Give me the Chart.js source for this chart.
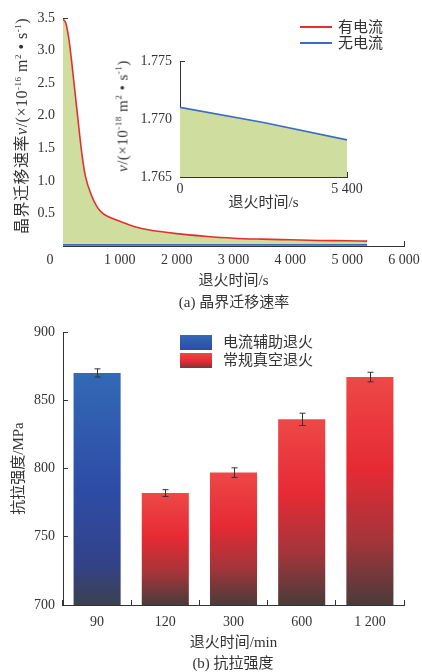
<!DOCTYPE html>
<html>
<head>
<meta charset="utf-8">
<script src="https://cdn.jsdelivr.net/npm/chart.js@4.4.1/dist/chart.umd.min.js"></script>
<style>
  body { margin: 0; background: #fff; }
  #page { position: relative; width: 422px; height: 672px; overflow: hidden; background: #fff;
    font-family: 'Liberation Serif', 'Noto Sans CJK SC', serif; color: #333; }
  canvas { position: absolute; }
  .txt { position: absolute; white-space: nowrap; font-size: 15px; line-height: 1; }
  .mid { transform: translate(-50%, -50%); }
  .left { transform: translate(0, -50%); }
  .rot { transform: translate(-50%, -50%) rotate(-90deg); }
  sup { font-size: 9px; vertical-align: 6px; line-height: 0; }
  .line { position: absolute; width: 32px; height: 2px; }
  .swatch { position: absolute; width: 32px; height: 15px; }
</style>
</head>
<body>
<div id="page">
  <canvas id="chartA" width="422" height="290" style="left:0;top:0;width:422px;height:290px"></canvas>
  <canvas id="chartInset" width="270" height="175" style="left:100px;top:40px;width:270px;height:175px"></canvas>
  <canvas id="chartB" width="422" height="362" style="left:0;top:310px;width:422px;height:362px"></canvas>

  <div class="txt rot" style="left:22px;top:126px;font-size:16px;letter-spacing:0.5px">晶界迁移速率<i>v</i>/(×10<sup>-16</sup> m<sup>2</sup> • s<sup>-1</sup>)</div>
  <div class="txt rot" style="left:123px;top:116px;font-size:15px;letter-spacing:0.5px"><i>v</i>/(×10<sup>-18</sup> m<sup>2</sup> • s<sup>-1</sup>)</div>

  <div class="line" style="left:300px;top:26px;background:#e3302f"></div>
  <div class="txt left" style="left:338px;top:27px">有电流</div>
  <div class="line" style="left:300px;top:42px;background:#3b6cc4"></div>
  <div class="txt left" style="left:338px;top:43px">无电流</div>

  <div class="txt mid" style="left:234px;top:302px">(a) 晶界迁移速率</div>

  <div class="swatch" style="left:180px;top:335px;background:linear-gradient(#3369b6,#2d4ca6)"></div>
  <div class="txt left" style="left:223px;top:342px">电流辅助退火</div>
  <div class="swatch" style="left:180px;top:353px;background:linear-gradient(#ee4848,#e62a34 55%,#7a3838)"></div>
  <div class="txt left" style="left:223px;top:360px">常规真空退火</div>

  <div class="txt mid" style="left:233px;top:663px">(b) 抗拉强度</div>
</div>

<script>
// (a) grain boundary migration rate, x in s, v in 1e-16 m2/s
const timeS = [0, 50, 100, 150, 200, 250, 300, 350, 400, 500, 600, 700, 800, 1000, 1250, 1500, 2000, 2500, 3000, 3500, 4000, 4500, 5000, 5350];
const vCurrent = [3.48, 3.42, 3.2, 2.85, 2.45, 2.05, 1.65, 1.3, 1.05, 0.78, 0.6, 0.5, 0.45, 0.38, 0.3, 0.25, 0.19, 0.15, 0.12, 0.105, 0.095, 0.085, 0.08, 0.075];
const timeNoCurrent = [0, 5350];
const vNoCurrent = [0.0177, 0.0177];
const xTicksA = [0, 1000, 2000, 3000, 4000, 5000, 6000];
const yTicksA = [0, 0.5, 1.0, 1.5, 2.0, 2.5, 3.0, 3.5];

// inset, v in 1e-18 m2/s
const insetT = [0, 2700, 5400];
const insetV = [1.7710, 1.7697, 1.7682];
const xTicksInset = [0, 5400];
const yTicksInset = [1.765, 1.770, 1.775];

// (b) tensile strength
const annealMin = ['90', '120', '300', '600', '1 200'];
const strengthAssisted = [870, null, null, null, null];
const strengthVacuum = [null, 782, 797, 836, 867];
const strengthErr = [3, 2.5, 3.5, 4.5, 3.5];
const yTicksB = [700, 750, 800, 850, 900];

const serif = "'Liberation Serif', 'Noto Sans CJK SC', serif";
const ink = '#333';
const tickFont = { family: serif, size: 14 };
const titleFont = { family: serif, size: 15 };

function fmt(v) {
  return String(v).replace(/\B(?=(\d{3})+(?!\d))/g, ' ');
}

function fixBox(w, h) {
  return function (scale) {
    if (w != null) scale.width = w;
    if (h != null) scale.height = h;
    scale.paddingLeft = 0;
    scale.paddingRight = 0;
    scale.paddingTop = 0;
    scale.paddingBottom = 0;
  };
}

function useTicks(list) {
  return function (scale) {
    scale.ticks = list.map(v => ({ value: v }));
  };
}

function axis(extra) {
  return Object.assign({
    border: { color: ink, width: 1 },
    grid: { drawOnChartArea: false, color: ink, tickColor: ink, tickLength: -5 },
  }, extra);
}

const cornerZero = {
  id: 'cornerZero',
  afterDraw(chart) {
    const ctx = chart.ctx;
    ctx.save();
    ctx.font = '14px ' + serif;
    ctx.fillStyle = ink;
    ctx.textAlign = 'center';
    ctx.textBaseline = 'middle';
    ctx.fillText('0', chart.chartArea.left - 13, chart.chartArea.bottom + 14);
    ctx.restore();
  }
};

new Chart(document.getElementById('chartA'), {
  type: 'line',
  data: {
    datasets: [
      {
        data: timeNoCurrent.map((t, i) => ({ x: t, y: vNoCurrent[i] })),
        borderColor: '#3b6cc4',
        borderWidth: 1.6,
        pointRadius: 0,
        fill: false,
      },
      {
        data: timeS.map((t, i) => ({ x: t, y: vCurrent[i] })),
        borderColor: '#e3302f',
        borderWidth: 1.6,
        pointRadius: 0,
        cubicInterpolationMode: 'monotone',
        fill: 'origin',
        backgroundColor: 'rgb(207,221,158)',
      },
    ],
  },
  options: {
    responsive: false,
    animation: false,
    layout: { padding: { top: 18, right: 18, left: 0, bottom: 0 } },
    plugins: { legend: { display: false }, tooltip: { enabled: false } },
    scales: {
      x: axis({
        type: 'linear', min: 0, max: 6000,
        afterBuildTicks: useTicks(xTicksA),
        afterFit: fixBox(null, 44),
        ticks: { font: tickFont, color: ink, padding: 11, maxRotation: 0,
          callback: v => (v === 0 ? '' : fmt(v)) },
        title: { display: true, text: '退火时间/s', font: titleFont, color: ink, padding: { top: 0, bottom: 0 } },
      }),
      y: axis({
        min: 0, max: 3.5,
        afterBuildTicks: useTicks(yTicksA),
        afterFit: fixBox(63, null),
        ticks: { font: tickFont, color: ink, padding: 13,
          callback: v => (v === 0 ? '' : v.toFixed(1)) },
      }),
    },
  },
  plugins: [cornerZero],
});

new Chart(document.getElementById('chartInset'), {
  type: 'line',
  data: {
    datasets: [
      {
        data: insetT.map((t, i) => ({ x: t, y: insetV[i] })),
        borderColor: '#3b6cc4',
        borderWidth: 1.6,
        pointRadius: 0,
        fill: 'start',
        backgroundColor: 'rgb(207,221,158)',
      },
    ],
  },
  options: {
    responsive: false,
    animation: false,
    layout: { padding: { top: 21, right: 23, left: 0, bottom: 0 } },
    plugins: { legend: { display: false }, tooltip: { enabled: false } },
    scales: {
      x: axis({
        type: 'linear', min: 0, max: 5400,
        afterBuildTicks: useTicks(xTicksInset),
        afterFit: fixBox(null, 38),
        ticks: { font: tickFont, color: ink, padding: 9, maxRotation: 0, callback: v => fmt(v) },
        title: { display: true, text: '退火时间/s', font: titleFont, color: ink, padding: { top: 0, bottom: 3 } },
      }),
      y: axis({
        min: 1.765, max: 1.775,
        afterBuildTicks: useTicks(yTicksInset),
        afterFit: fixBox(80, null),
        ticks: { font: tickFont, color: ink, padding: 13, callback: v => v.toFixed(3) },
      }),
    },
  },
});

function barGradient(stops) {
  return function (c) {
    const chart = c.chart;
    const area = chart.chartArea;
    if (!area || c.type !== 'data' || c.raw == null) return stops[0][1];
    const top = chart.scales.y.getPixelForValue(c.raw);
    const g = chart.ctx.createLinearGradient(0, top, 0, area.bottom);
    stops.forEach(s => g.addColorStop(s[0], s[1]));
    return g;
  };
}

const errorBars = {
  id: 'errorBars',
  afterDatasetsDraw(chart) {
    const ctx = chart.ctx;
    const x = chart.scales.x;
    const y = chart.scales.y;
    ctx.save();
    ctx.strokeStyle = ink;
    ctx.lineWidth = 1;
    annealMin.forEach((c, i) => {
      const v = strengthAssisted[i] != null ? strengthAssisted[i] : strengthVacuum[i];
      const px = Math.round(x.getPixelForValue(i)) + 0.5;
      const hi = y.getPixelForValue(v + strengthErr[i]);
      const lo = y.getPixelForValue(v - strengthErr[i]);
      ctx.beginPath();
      ctx.moveTo(px, hi); ctx.lineTo(px, lo);
      ctx.moveTo(px - 3, hi); ctx.lineTo(px + 3, hi);
      ctx.moveTo(px - 3, lo); ctx.lineTo(px + 3, lo);
      ctx.stroke();
    });
    ctx.restore();
  }
};

new Chart(document.getElementById('chartB'), {
  type: 'bar',
  data: {
    labels: annealMin,
    datasets: [
      {
        label: '电流辅助退火',
        data: strengthAssisted,
        grouped: false,
        backgroundColor: barGradient([[0, '#3369b6'], [0.5, '#2d4ca6'], [0.82, '#33428a'], [1, '#3b4150']]),
      },
      {
        label: '常规真空退火',
        data: strengthVacuum,
        grouped: false,
        backgroundColor: barGradient([[0, '#ee4848'], [0.4, '#e62a34'], [0.72, '#a3353a'], [1, '#4a3b3a']]),
      },
    ],
  },
  options: {
    responsive: false,
    animation: false,
    categoryPercentage: 1,
    barPercentage: 0.69,
    layout: { padding: { top: 22, right: 18, left: 0, bottom: 0 } },
    plugins: { legend: { display: false }, tooltip: { enabled: false } },
    scales: {
      x: axis({
        afterFit: fixBox(null, 67),
        ticks: { font: tickFont, color: ink, padding: 14, maxRotation: 0 },
        title: { display: true, text: '退火时间/min', font: titleFont, color: ink, padding: { top: 0, bottom: 20 } },
      }),
      y: axis({
        min: 700, max: 900,
        afterBuildTicks: useTicks(yTicksB),
        afterFit: fixBox(63, null),
        ticks: { font: tickFont, color: ink, padding: 13 },
        title: { display: true, text: '抗拉强度/MPa', font: titleFont, color: ink, padding: { top: 10, bottom: 0 } },
      }),
    },
  },
  plugins: [errorBars],
});
</script>
</body>
</html>
